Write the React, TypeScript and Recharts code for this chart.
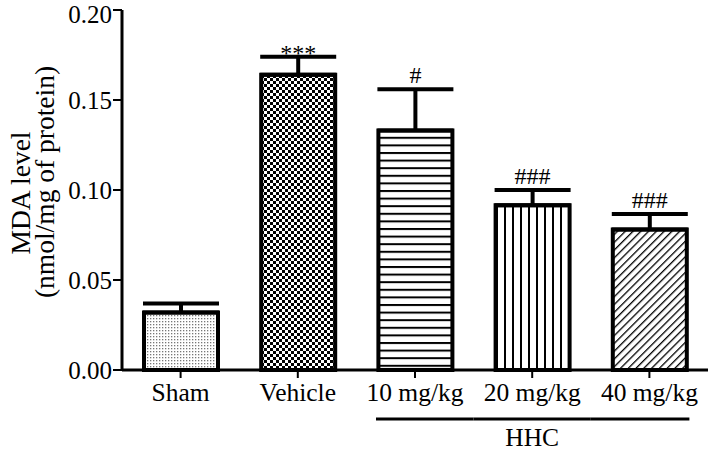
import React from 'react';
import { BarChart, Bar, XAxis, YAxis, ErrorBar, Cell, LabelList } from 'recharts';

const groups = ['Sham', 'Vehicle', '10 mg/kg', '20 mg/kg', '40 mg/kg'];
const mda = [0.032, 0.164, 0.133, 0.0915, 0.078];
const sem = [0.005, 0.01, 0.023, 0.0085, 0.0087];
const marks = ['', '***', '#', '###', '###'];
const yTicks = [0, 0.05, 0.1, 0.15, 0.2];
const fills = ['url(#pDots)', 'url(#pCheck)', 'url(#pHoriz)', 'url(#pVert)', 'url(#pDiag)'];

const font = "'Liberation Serif', 'Times New Roman', serif";
const halfBand = 58.6;

const data = groups.map((g, i) => ({ group: g, value: mda[i], err: [0, sem[i]], mark: marks[i] }));

const XTick = (props: any) => {
    const { x, y, payload, index } = props;
    return (
        <g>
            <text x={x} y={y + 23} textAnchor="middle" fontFamily={font} fontSize={25.5} fill="#000">{payload.value}</text>
            {index === 2 && <line x1={x - 39} x2={x + halfBand} y1={419} y2={419} stroke="#000" strokeWidth={3} />}
            {index === 3 && (
                <g>
                    <line x1={x - halfBand} x2={x + halfBand} y1={419} y2={419} stroke="#000" strokeWidth={3} />
                    <text x={x} y={446} textAnchor="middle" fontFamily={font} fontSize={25.5} fill="#000">HHC</text>
                </g>
            )}
            {index === 4 && <line x1={x - halfBand} x2={x + 40} y1={419} y2={419} stroke="#000" strokeWidth={3} />}
        </g>
    );
};

const SigLabel = (props: any) => {
    const { x = 0, y = 0, width = 0, height = 0, index = 0 } = props;
    const text = marks[index];
    if (!text) return null;
    const capY = y - sem[index] * height / mda[index];
    const ty = text.startsWith('*') ? capY + 4 : capY - 6;
    return (
        <text x={x + width / 2} y={ty} textAnchor="middle" fontFamily={font} fontSize={24} fill="#000">{text}</text>
    );
};

const YLabel = () => (
    <g fontFamily={font} fontSize={27.5} fill="#000">
        <text transform="translate(30,193) rotate(-90)" textAnchor="middle">MDA level</text>
        <text transform="translate(54,182) rotate(-90)" textAnchor="middle">(nmol/mg of protein)</text>
    </g>
);

export default function App() {
    return (
        <div style={{ position: 'absolute', left: 0, top: 0, background: '#fff' }}>
            <BarChart width={708} height={465} data={data} margin={{ top: 10, right: 0, bottom: 0, left: 0 }} barSize={74}>
                <defs>
                    <pattern id="pDots" width="3" height="3" patternUnits="userSpaceOnUse">
                        <rect width="3" height="3" fill="#fff" />
                        <rect width="1.3" height="1.3" fill="#777" />
                    </pattern>
                    <pattern id="pCheck" width="6" height="6" patternUnits="userSpaceOnUse">
                        <rect width="6" height="6" fill="#fff" />
                        <rect width="3" height="3" fill="#000" />
                        <rect x="3" y="3" width="3" height="3" fill="#000" />
                    </pattern>
                    <pattern id="pHoriz" width="8" height="7.6" patternUnits="userSpaceOnUse">
                        <rect width="8" height="7.6" fill="#fff" />
                        <rect width="8" height="2" fill="#000" />
                    </pattern>
                    <pattern id="pVert" width="8" height="8" patternUnits="userSpaceOnUse">
                        <rect width="8" height="8" fill="#fff" />
                        <rect width="2" height="8" fill="#000" />
                    </pattern>
                    <pattern id="pDiag" width="5.5" height="5.5" patternUnits="userSpaceOnUse" patternTransform="rotate(45)">
                        <rect width="5.5" height="5.5" fill="#fff" />
                        <rect width="1.3" height="5.5" fill="#000" />
                    </pattern>
                </defs>
                <XAxis
                    dataKey="group"
                    height={95}
                    tickSize={8}
                    tickMargin={0}
                    interval={0}
                    axisLine={{ stroke: '#000', strokeWidth: 3 }}
                    tickLine={{ stroke: '#000', strokeWidth: 2 }}
                    tick={<XTick />}
                />
                <YAxis
                    width={122}
                    domain={[0, 0.2]}
                    ticks={yTicks}
                    tickSize={9}
                    tickMargin={1}
                    tickFormatter={(v: number) => v.toFixed(2)}
                    axisLine={{ stroke: '#000', strokeWidth: 3 }}
                    tickLine={{ stroke: '#000', strokeWidth: 2 }}
                    tick={{ fill: '#000', fontFamily: font, fontSize: 25 }}
                    label={<YLabel />}
                />
                <Bar dataKey="value" stroke="#000" strokeWidth={4} isAnimationActive={false}>
                    {data.map((d, i) => <Cell key={d.group} fill={fills[i]} />)}
                    <ErrorBar dataKey="err" width={38} stroke="#000" strokeWidth={4} direction="y" />
                    <LabelList dataKey="mark" content={<SigLabel />} />
                </Bar>
            </BarChart>
        </div>
    );
}
